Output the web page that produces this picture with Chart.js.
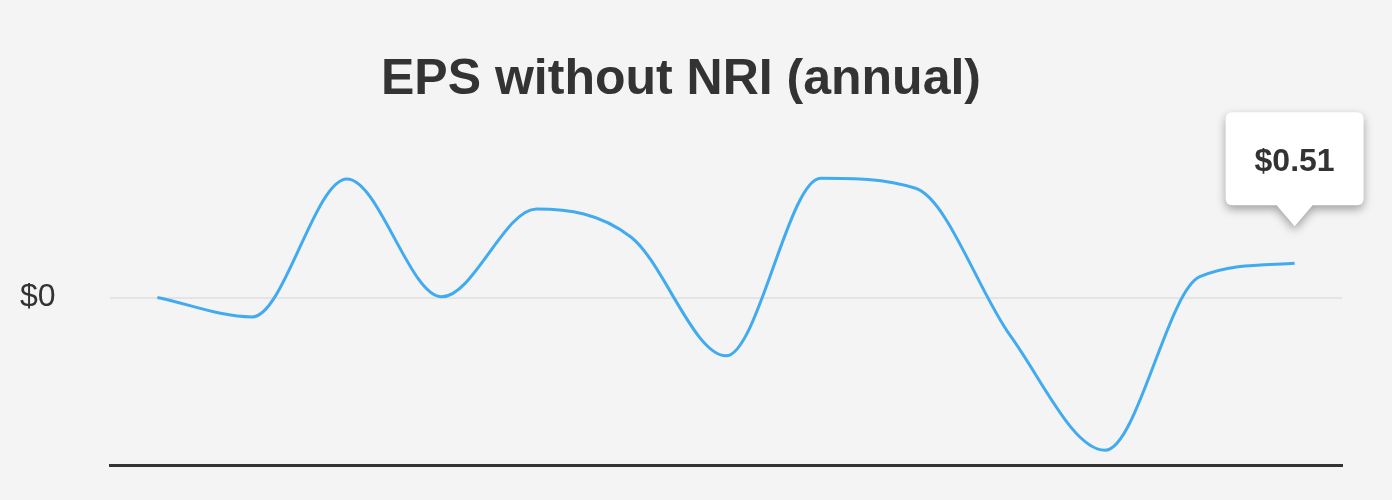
<!DOCTYPE html>
<html lang="en">
<head>
  <meta charset="UTF-8" />
  <title>EPS without NRI (annual)</title>
  <script src="https://cdn.jsdelivr.net/npm/chart.js"></script>
  <style>
    html, body { margin: 0; padding: 0; background: #f4f4f4; }
    #wrap { width: 1392px; height: 500px; }
  </style>
</head>
<body>
  <div id="wrap"><canvas id="epsChart"></canvas></div>

  <script>
    // data
    const years = ['2013', '2014', '2015', '2016', '2017', '2018', '2019', '2020', '2021', '2022', '2023', '2024', 'TTM'];
    const eps = [0.0, -0.29, 1.77, 0.01, 1.32, 0.90, -0.87, 1.78, 1.63, -0.57, -2.28, 0.31, 0.51];
    const yTicks = [0];

    // tooltip-like callout over the last point
    const calloutPlugin = {
      id: 'callout',
      afterDraw(chart) {
        const meta = chart.getDatasetMeta(0);
        const pt = meta.data[meta.data.length - 1];
        const ctx = chart.ctx;
        const w = 138, h = 93, r = 7;
        const cx = pt.x, tipY = pt.y - 37;
        const bottom = tipY - 21, top = bottom - h;
        const left = cx - w / 2;
        ctx.save();
        ctx.shadowColor = 'rgba(0,0,0,0.35)';
        ctx.shadowBlur = 10;
        ctx.shadowOffsetY = 4;
        ctx.fillStyle = '#ffffff';
        ctx.beginPath();
        ctx.moveTo(left + r, top);
        ctx.lineTo(left + w - r, top);
        ctx.quadraticCurveTo(left + w, top, left + w, top + r);
        ctx.lineTo(left + w, bottom - r);
        ctx.quadraticCurveTo(left + w, bottom, left + w - r, bottom);
        ctx.lineTo(cx + 18, bottom);
        ctx.lineTo(cx, tipY);
        ctx.lineTo(cx - 18, bottom);
        ctx.lineTo(left + r, bottom);
        ctx.quadraticCurveTo(left, bottom, left, bottom - r);
        ctx.lineTo(left, top + r);
        ctx.quadraticCurveTo(left, top, left + r, top);
        ctx.closePath();
        ctx.fill();
        ctx.restore();

        ctx.save();
        ctx.fillStyle = '#333333';
        ctx.font = 'bold 32px "Liberation Sans", Arial, sans-serif';
        ctx.textAlign = 'center';
        ctx.textBaseline = 'middle';
        ctx.fillText('$' + eps[eps.length - 1].toFixed(2), cx, top + h / 2 + 3);
        ctx.restore();
      }
    };

    new Chart(document.getElementById('epsChart'), {
      type: 'line',
      data: {
        labels: years,
        datasets: [{
          data: eps,
          borderColor: '#42abf0',
          borderWidth: 3,
          pointRadius: 0,
          fill: false,
          cubicInterpolationMode: 'monotone'
        }]
      },
      options: {
        responsive: true,
        maintainAspectRatio: false,
        animation: false,
        layout: { padding: { left: 20, right: 50, top: 0, bottom: 35 } },
        plugins: {
          legend: { display: false },
          tooltip: { enabled: false },
          title: {
            display: true,
            text: 'EPS without NRI (annual)',
            color: '#333333',
            font: { family: '"Liberation Sans", Arial, sans-serif', size: 50, weight: 'bold' },
            padding: { top: 50, bottom: 20 }
          }
        },
        scales: {
          x: {
            offset: true,
            grid: { display: false, drawTicks: false },
            ticks: { display: false },
            border: { display: true, color: '#333333', width: 3 }
          },
          y: {
            min: -2.5,
            max: 2.5,
            afterBuildTicks(scale) {
              scale.ticks = yTicks.map(v => ({ value: v }));
            },
            afterFit(scale) { scale.width = 90; },
            border: { display: false },
            grid: { color: '#e4e4e4', lineWidth: 2, drawTicks: false },
            ticks: {
              color: '#333333',
              crossAlign: 'far',
              font: { family: '"Liberation Sans", Arial, sans-serif', size: 32 },
              callback: v => '$' + v
            }
          }
        }
      },
      plugins: [calloutPlugin]
    });
  </script>
</body>
</html>
